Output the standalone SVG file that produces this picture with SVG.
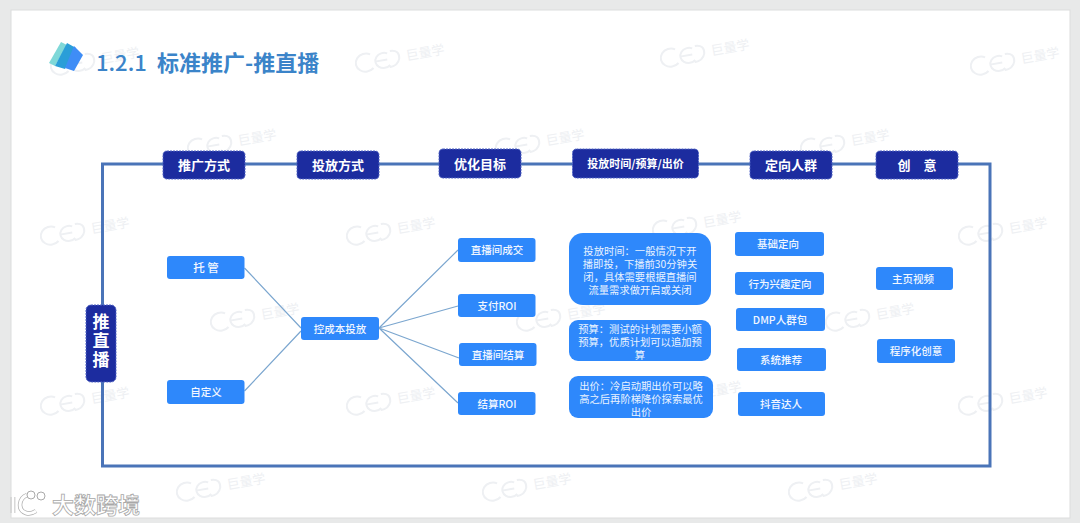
<svg xmlns="http://www.w3.org/2000/svg" width="1080" height="523" viewBox="0 0 1080 523">
<style>
text{font-family:"Noto Sans CJK SC","Liberation Sans",sans-serif;text-anchor:middle;dominant-baseline:central}
.d{fill:#1c2c9f;stroke:#4f63c4;stroke-width:1;stroke-dasharray:2 1}
.b{fill:#2e88fb}
.dt{fill:#fff;font-size:13px;font-weight:700}
.t{fill:#f2f7ff;font-size:10.5px;font-weight:500}
.s{fill:#eaf3ff;font-size:10.3px}
.c{stroke:#7ba6cf;stroke-width:1.2;fill:none}
.wm{fill:#eef0f3;font-size:13px;text-anchor:start}
</style>
<defs>
<g id="wm">
<g fill="none" stroke="#eef0f3" stroke-width="2">
<path d="M15 2a10 9 0 1 0 1 14"/>
<path d="M32 4a8.500 7.500 0 1 0 1 12M20 10h11"/>
<path d="M35 2c7 0 9 4 8 9c-2 6-7 7-11 7"/>
</g>
<text class="wm" x="50" y="9">巨量学</text>
</g>
</defs>
<rect width="1080" height="523" fill="#e8e9e9"/>
<rect x="11" y="10" width="1059" height="508" fill="#fff" stroke="#dcdddd" stroke-width="1"/>
<g id="watermarks">
<use href="#wm" transform="translate(355 55) rotate(-10)"/>
<use href="#wm" transform="translate(970 58) rotate(-10)"/>
<use href="#wm" transform="translate(50 58) rotate(-10)"/>
<use href="#wm" transform="translate(660 50) rotate(-10)"/>
<use href="#wm" transform="translate(187 140) rotate(-10)"/>
<use href="#wm" transform="translate(495 140) rotate(-10)"/>
<use href="#wm" transform="translate(800 140) rotate(-10)"/>
<use href="#wm" transform="translate(40 228) rotate(-10)"/>
<use href="#wm" transform="translate(346 228) rotate(-10)"/>
<use href="#wm" transform="translate(652 222) rotate(-10)"/>
<use href="#wm" transform="translate(958 228) rotate(-10)"/>
<use href="#wm" transform="translate(210 314) rotate(-10)"/>
<use href="#wm" transform="translate(516 314) rotate(-10)"/>
<use href="#wm" transform="translate(825 314) rotate(-10)"/>
<use href="#wm" transform="translate(40 398) rotate(-10)"/>
<use href="#wm" transform="translate(346 398) rotate(-10)"/>
<use href="#wm" transform="translate(652 392) rotate(-10)"/>
<use href="#wm" transform="translate(958 398) rotate(-10)"/>
<use href="#wm" transform="translate(176 484) rotate(-10)"/>
<use href="#wm" transform="translate(482 484) rotate(-10)"/>
<use href="#wm" transform="translate(788 484) rotate(-10)"/>
</g>
<g id="title">
<polygon points="61,42 49,63 55,66 67,45" fill="#7fd8d8"/>
<polygon points="67,43 55,66 65,69 76,48" fill="#2a9ed8"/>
<polygon points="74,46 83,55 74,71 65,68" fill="#3f8df6"/>
<text y="61" style="text-anchor:start;font-size:22px;font-weight:700;fill:#3b84c9"><tspan x="96" font-weight="500">1.2.1</tspan><tspan x="157">标准推广-推直播</tspan></text>
</g>
<g id="connectors">
<path d="M102.500 164H990V466H102.500Z" fill="none" stroke="#4a74b8" stroke-width="3"/>
<path class="c" d="M244.500 268L301 328M244.500 391L301 331M379 328L458 250M379 328L458 306M379 328L459 358M379 328L458 403"/>
</g>
<g id="n-zhibo"><rect class="d" x="86" y="305" width="30" height="77" rx="5"/><text class="dt" x="101" y="342" style="font-size:17px;writing-mode:vertical-rl;letter-spacing:2px">推直播</text></g>
<g id="h1"><rect class="d" x="163" y="151" width="82" height="28" rx="4"/><text class="dt" x="204" y="164.500">推广方式</text></g>
<g id="h2"><rect class="d" x="297" y="151" width="82" height="28" rx="4"/><text class="dt" x="338" y="164.500">投放方式</text></g>
<g id="h3"><rect class="d" x="439" y="149" width="82" height="29" rx="4"/><text class="dt" x="480" y="163">优化目标</text></g>
<g id="h4"><rect class="d" x="572.500" y="149" width="126" height="29" rx="4"/><text class="dt" style="font-size:11px" x="635.500" y="163">投放时间/预算/出价</text></g>
<g id="h5"><rect class="d" x="750" y="151" width="82" height="28" rx="4"/><text class="dt" x="791" y="164.500">定向人群</text></g>
<g id="h6"><rect class="d" x="876" y="151" width="82" height="28" rx="4"/><text class="dt" x="917" y="164.500" word-spacing="10">创 意</text></g>
<g id="n1"><rect class="b" x="167" y="256" width="77.500" height="23" rx="3"/><text class="t" style="font-size:11.500px" x="206" y="267">托 管</text></g>
<g id="n2"><rect class="b" x="167" y="380" width="77.500" height="24" rx="3"/><text class="t" x="206" y="391.500">自定义</text></g>
<g id="n3"><rect class="b" x="301" y="317" width="78" height="23" rx="3"/><text class="t" x="340" y="328">控成本投放</text></g>
<g id="o1"><rect class="b" x="458" y="238" width="77.500" height="24" rx="3"/><text class="t" x="497" y="249.500">直播间成交</text></g>
<g id="o2"><rect class="b" x="458" y="294" width="77.500" height="23" rx="3"/><text class="t" x="497" y="305">支付ROI</text></g>
<g id="o3"><rect class="b" x="459" y="343" width="77.500" height="23" rx="3"/><text class="t" x="498" y="354">直播间结算</text></g>
<g id="o4"><rect class="b" x="458" y="392" width="77.500" height="23" rx="3"/><text class="t" x="497" y="403">结算ROI</text></g>
<g id="p1"><rect class="b" x="569" y="233" width="142" height="72" rx="14"/>
<text class="s"><tspan x="640" y="249.500">投放时间：一般情况下开</tspan><tspan x="640" y="262.500">播即投，下播前30分钟关</tspan><tspan x="640" y="275.500">闭，具体需要根据直播间</tspan><tspan x="640" y="288.500">流量需求做开启或关闭</tspan></text></g>
<g id="p2"><rect class="b" x="569" y="320" width="142" height="41" rx="9"/>
<text class="s"><tspan x="640" y="327.500">预算：测试的计划需要小额</tspan><tspan x="640" y="340.500">预算，优质计划可以追加预</tspan><tspan x="640" y="353.500">算</tspan></text></g>
<g id="p3"><rect class="b" x="569" y="376" width="144" height="42" rx="9"/>
<text class="s"><tspan x="641" y="384.500">出价：冷启动期出价可以略</tspan><tspan x="641" y="397.500">高之后再阶梯降价探索最优</tspan><tspan x="641" y="410.500">出价</tspan></text></g>
<g id="a1"><rect class="b" x="735" y="232" width="89" height="24" rx="3"/><text class="t" x="778" y="243.500">基础定向</text></g>
<g id="a2"><rect class="b" x="735" y="272" width="89" height="23" rx="3"/><text class="t" x="780" y="283">行为兴趣定向</text></g>
<g id="a3"><rect class="b" x="736" y="308" width="89" height="23" rx="3"/><text class="t" x="780" y="319">DMP人群包</text></g>
<g id="a4"><rect class="b" x="737" y="348" width="89" height="23" rx="3"/><text class="t" x="781" y="359">系统推荐</text></g>
<g id="a5"><rect class="b" x="738" y="392" width="87" height="24" rx="3"/><text class="t" x="781" y="403.500">抖音达人</text></g>
<g id="c1"><rect class="b" x="876" y="267" width="77" height="23" rx="3"/><text class="t" x="913" y="278">主页视频</text></g>
<g id="c2"><rect class="b" x="877" y="339" width="78" height="24" rx="3"/><text class="t" x="916" y="350.500">程序化创意</text></g>
<g id="brand">
<path d="M13 497v16M27 495c-8 3-10 15-1 18c3 1 7 0 10-2" fill="none" stroke="#b0b0b0" stroke-width="4.500"/>
<path d="M13 497v16M27 495c-8 3-10 15-1 18c3 1 7 0 10-2" fill="none" stroke="#fff" stroke-width="3"/>
<circle cx="31" cy="495" r="4" fill="#fff" stroke="#aaa"/><circle cx="41" cy="496" r="4" fill="#fff" stroke="#aaa"/>
<text x="96" y="503" style="font-size:22px;font-weight:700;fill:#fff;stroke:#a8a8a8;stroke-width:.8">大数跨境</text>
</g>
</svg>
